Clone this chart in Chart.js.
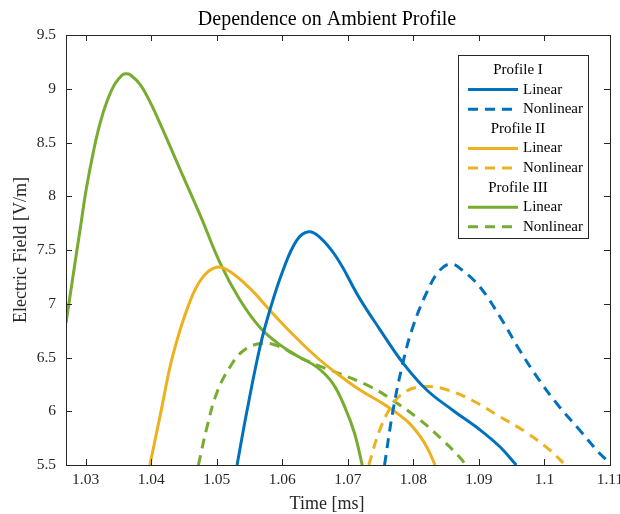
<!DOCTYPE html>
<html>
<head>
<meta charset="utf-8">
<script src="https://cdn.jsdelivr.net/npm/chart.js@4"></script>
<style>
  html, body { margin: 0; padding: 0; background: #fff; }
  #wrap { width: 620px; height: 514px; }
</style>
</head>
<body>
<div id="wrap"><canvas id="chart" width="620" height="514"></canvas></div>
<script>
// axis ticks
const timeTicks = [1.03, 1.04, 1.05, 1.06, 1.07, 1.08, 1.09, 1.1, 1.11];
const fieldTicks = [5.5, 6, 6.5, 7, 7.5, 8, 8.5, 9, 9.5];

// Profile I
const timeLinI = [1.0531, 1.0546, 1.0566, 1.0581, 1.0601, 1.0622, 1.0640, 1.0657, 1.0683, 1.0718, 1.0749, 1.0784, 1.0820, 1.0860, 1.0901, 1.0932, 1.0957];
const fieldLinI = [5.50, 6.00, 6.60, 6.94, 7.31, 7.59, 7.67, 7.62, 7.43, 7.05, 6.76, 6.45, 6.20, 6.01, 5.83, 5.67, 5.50];
const timeNonI = [1.0756, 1.0769, 1.0784, 1.0799, 1.0820, 1.0840, 1.0858, 1.0875, 1.0901, 1.0932, 1.0962, 1.0992, 1.1023, 1.1053, 1.1084, 1.1100];
const fieldNonI = [5.50, 6.01, 6.45, 6.78, 7.10, 7.31, 7.37, 7.31, 7.16, 6.88, 6.57, 6.29, 6.04, 5.83, 5.61, 5.52];

// Profile II
const timeLinII = [1.0398, 1.0414, 1.0433, 1.0459, 1.0479, 1.0500, 1.0520, 1.0551, 1.0581, 1.0612, 1.0653, 1.0688, 1.0718, 1.0759, 1.0790, 1.0810, 1.0822, 1.0833];
const fieldLinII = [5.50, 5.97, 6.52, 7.02, 7.25, 7.34, 7.30, 7.14, 6.94, 6.74, 6.50, 6.33, 6.20, 6.05, 5.91, 5.77, 5.65, 5.50];
const timeNonII = [1.0732, 1.0749, 1.0769, 1.0790, 1.0820, 1.0851, 1.0890, 1.0932, 1.0973, 1.1008, 1.1032];
const fieldNonII = [5.50, 5.83, 6.07, 6.19, 6.23, 6.20, 6.10, 5.95, 5.80, 5.64, 5.50];

// Profile III
const timeLinIII = [1.0270, 1.0281, 1.0292, 1.0301, 1.0312, 1.0322, 1.0333, 1.0344, 1.0356, 1.0362, 1.0368, 1.0383, 1.0398, 1.0414, 1.0444, 1.0475, 1.0505, 1.0535, 1.0566, 1.0596, 1.0627, 1.0653, 1.0677, 1.0696, 1.0710, 1.0722];
const fieldLinIII = [6.82, 7.27, 7.71, 8.07, 8.42, 8.68, 8.89, 9.04, 9.13, 9.14, 9.13, 9.04, 8.88, 8.67, 8.25, 7.82, 7.38, 7.04, 6.78, 6.62, 6.50, 6.41, 6.26, 6.03, 5.80, 5.50];
const timeNonIII = [1.0472, 1.0485, 1.0500, 1.0520, 1.0540, 1.0566, 1.0592, 1.0627, 1.0653, 1.0683, 1.0734, 1.0769, 1.0810, 1.0845, 1.0871, 1.0880];
const fieldNonIII = [5.50, 5.85, 6.17, 6.41, 6.56, 6.63, 6.61, 6.50, 6.43, 6.36, 6.23, 6.10, 5.92, 5.73, 5.57, 5.50];

const groupNames = ['Profile I', 'Profile II', 'Profile III'];
const colors = ['#0072BD', '#EDB120', '#77AC30'];
const DASH = [10, 7];
const AXIS = '#262626';
const SERIF = '"Liberation Serif", "Times New Roman", serif';
const TITLE = 'Dependence on Ambient Profile';
const X_LABEL = 'Time [ms]';

const toPoints = (xs, ys) => xs.map((x, i) => ({ x, y: ys[i] }));

function line(label, group, xs, ys, dashed) {
  return {
    label,
    group,
    data: toPoints(xs, ys),
    borderColor: colors[group],
    borderWidth: 3,
    borderDash: dashed ? DASH : [],
    pointRadius: 0,
    tension: 0.4,
    fill: false
  };
}

const datasets = [
  line('Linear', 0, timeLinI, fieldLinI, false),
  line('Nonlinear', 0, timeNonI, fieldNonI, true),
  line('Linear', 1, timeLinII, fieldLinII, false),
  line('Nonlinear', 1, timeNonII, fieldNonII, true),
  line('Linear', 2, timeLinIII, fieldLinIII, false),
  line('Nonlinear', 2, timeNonIII, fieldNonIII, true)
];

// box around the axes with inward ticks on all four sides
const boxAxes = {
  id: 'boxAxes',
  afterDatasetsDraw(chart) {
    const { ctx, chartArea: a, scales } = chart;
    const len = 6;
    ctx.save();
    ctx.strokeStyle = AXIS;
    ctx.lineWidth = 1;
    ctx.beginPath();
    scales.x.ticks.forEach(t => {
      const px = Math.round(scales.x.getPixelForValue(t.value)) + 0.5;
      ctx.moveTo(px, a.bottom); ctx.lineTo(px, a.bottom - len);
      ctx.moveTo(px, a.top); ctx.lineTo(px, a.top + len);
    });
    scales.y.ticks.forEach(t => {
      const py = Math.round(scales.y.getPixelForValue(t.value)) + 0.5;
      ctx.moveTo(a.left, py); ctx.lineTo(a.left + len, py);
      ctx.moveTo(a.right, py); ctx.lineTo(a.right - len, py);
    });
    ctx.stroke();
    ctx.strokeRect(Math.round(a.left) + 0.5, Math.round(a.top) + 0.5,
                   Math.round(a.right - a.left), Math.round(a.bottom - a.top));
    ctx.restore();
  }
};

// title and x-axis label, both centred a bit left of the plot centre
const captions = {
  id: 'captions',
  afterDraw(chart) {
    const { ctx, chartArea: a } = chart;
    const cx = (a.left + a.right) / 2 - 11;
    ctx.save();
    ctx.textAlign = 'center';
    ctx.textBaseline = 'alphabetic';
    ctx.fillStyle = '#000';
    ctx.font = '20px ' + SERIF;
    ctx.fillText(TITLE, cx, a.top - 10);
    ctx.fillStyle = AXIS;
    ctx.font = '18px ' + SERIF;
    ctx.fillText(X_LABEL, cx, a.bottom + 44);
    ctx.restore();
  }
};

// grouped legend: a header per profile, then its two lines
const groupedLegend = {
  id: 'groupedLegend',
  afterDraw(chart) {
    const { ctx, chartArea: a } = chart;
    const right = a.right - 22, top = a.top + 20;
    const w = 130, h = 183, left = right - w;
    const step = 19.6;
    ctx.save();
    ctx.fillStyle = '#fff';
    ctx.fillRect(left, top, w, h);
    ctx.strokeStyle = AXIS;
    ctx.lineWidth = 1;
    ctx.strokeRect(Math.round(left) + 0.5, Math.round(top) + 0.5, w, h);
    ctx.font = '15px ' + SERIF;
    ctx.textBaseline = 'middle';
    let y = top + 15;
    groupNames.forEach((name, g) => {
      ctx.fillStyle = '#000';
      ctx.textAlign = 'center';
      ctx.fillText(name, left + 60, y);
      y += step;
      chart.data.datasets.filter(d => d.group === g).forEach(d => {
        ctx.strokeStyle = d.borderColor;
        ctx.lineWidth = 3;
        ctx.setLineDash(d.borderDash);
        ctx.beginPath();
        ctx.moveTo(left + 10, y);
        ctx.lineTo(left + 60, y);
        ctx.stroke();
        ctx.setLineDash([]);
        ctx.fillStyle = '#000';
        ctx.textAlign = 'left';
        ctx.fillText(d.label, left + 65, y);
        y += step;
      });
    });
    ctx.restore();
  }
};

new Chart(document.getElementById('chart'), {
  type: 'line',
  data: { datasets },
  options: {
    responsive: false,
    animation: false,
    layout: { padding: { left: 0, right: 10, top: 35, bottom: 0 } },
    plugins: {
      legend: { display: false },
      tooltip: { enabled: false },
      title: { display: false }
    },
    scales: {
      x: {
        type: 'linear',
        min: 1.027,
        max: 1.11,
        afterBuildTicks: s => { s.ticks = timeTicks.map(v => ({ value: v })); },
        afterFit: s => { s.height = 49; s.paddingLeft = 0; s.paddingRight = 0; },
        grid: { display: false, drawTicks: false },
        border: { display: false },
        ticks: {
          color: AXIS,
          padding: 6,
          maxRotation: 0,
          font: { family: SERIF, size: 15.5 },
          callback: v => String(v)
        }
      },
      y: {
        type: 'linear',
        min: 5.5,
        max: 9.5,
        afterBuildTicks: s => { s.ticks = fieldTicks.map(v => ({ value: v })); },
        afterFit: s => { s.width = 66; s.paddingTop = 0; s.paddingBottom = 0; },
        grid: { display: false, drawTicks: false },
        border: { display: false },
        ticks: {
          color: AXIS,
          padding: 10,
          font: { family: SERIF, size: 15.5 },
          callback: v => String(v)
        },
        title: {
          display: true,
          text: 'Electric Field [V/m]',
          color: AXIS,
          font: { family: SERIF, size: 18 },
          padding: { top: 10, bottom: 0 }
        }
      }
    }
  },
  plugins: [boxAxes, captions, groupedLegend]
});
</script>
</body>
</html>
